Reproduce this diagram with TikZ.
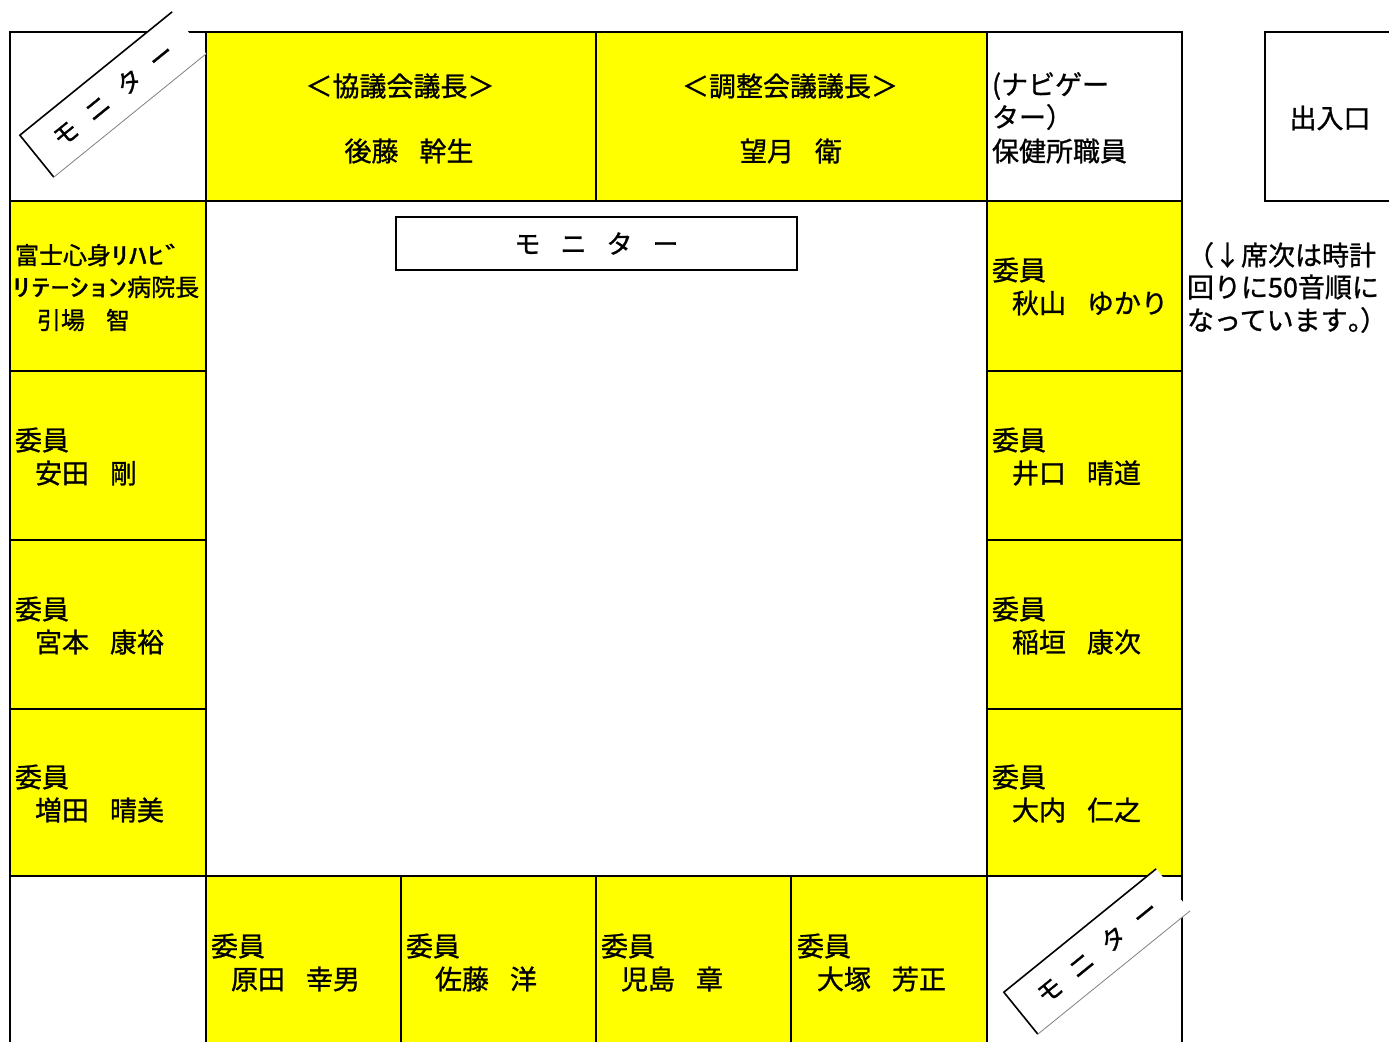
\documentclass[tikz,border=0pt]{standalone}
\usepackage{fontspec}
\usepackage{graphicx}
\setmainfont{Noto Sans CJK JP}[RawFeature={embolden=1.0}]
\newfontfamily\paltfont{Noto Sans CJK JP}[RawFeature={+palt;embolden=1.0}]
\definecolor{seat}{RGB}{255,255,0}
\newcommand\namegap{\hspace{10.5pt}}
\newcommand\seatpair[5]{%
  \node[txt] (#1a) at (#2,#3) {委員};
  \node[txt] (#1b) at (#2+#4,#3+33) {#5};}
\begin{document}
\begin{tikzpicture}[x=0.5pt,y=-0.5pt,
  grid/.style={line width=1.4pt, draw=black},
  txt/.style={inner sep=0pt, outer sep=0pt, font=\fontsize{13.5pt}{16.5pt}\selectfont, anchor=west},
  ctxt/.style={txt, anchor=center},
  smalltxt/.style={txt, font=\fontsize{12pt}{15pt}\selectfont},
  diagmon/.style={fill=white, rotate=39, minimum width=98pt, minimum height=27pt, inner sep=0pt, outer sep=0pt, font=\fontsize{12.5pt}{15pt}\selectfont},
]
\useasboundingbox (0,0) rectangle (1389,1041);
% yellow seats
\fill[seat] (206,32) rectangle (987,201);
\fill[seat] (10,201) rectangle (206,876);
\fill[seat] (987,201) rectangle (1182,876);
\fill[seat] (206,876) rectangle (987,1045);
% grid lines
\draw[grid] (10,1045) -- (10,32) -- (1182,32) -- (1182,1045);
\draw[grid] (10,201) -- (1182,201);
\draw[grid] (10,876) -- (1182,876);
\draw[grid] (206,32) -- (206,1045);
\draw[grid] (987,32) -- (987,1045);
\draw[grid] (596,32) -- (596,201);
\foreach \yy in {371,540,709}{
  \draw[grid] (10,\yy) -- (206,\yy);
  \draw[grid] (987,\yy) -- (1182,\yy);
}
\foreach \xx in {401,596,791}{
  \draw[grid] (\xx,876) -- (\xx,1045);
}
% entrance
\draw[line width=1pt] (1265,32) rectangle (1400,201);
\node[ctxt] (entr) at (1330,118) {出入口};
% centre monitor
\node[draw, line width=1pt, minimum width=200.5pt, minimum height=26.5pt, inner sep=0pt,
      font=\fontsize{13pt}{16pt}\selectfont] (mon) at (596.5,243.5)
      {モ\hspace{10pt}ニ\hspace{10pt}タ\hspace{10pt}ー};
% top row
\node[ctxt] (chairA) at (400,86) {＜協議会議長＞};
\node[ctxt] (chairAn) at (409,151) {後藤\namegap 幹生};
\node[ctxt] (chairB) at (790,86) {＜調整会議議長＞};
\node[ctxt] (chairBn) at (791,151) {望月\namegap 衛};
\node[txt] (nav1) at (992,86) {(ナビゲー};
\node[txt] (nav2) at (992,117) {ター）};
\node[txt] (nav3) at (992,151) {保健所職員};
% top-left seat
\node[smalltxt] (hosp1) at (15,255) {富士心身\scalebox{1.5}[1]{ﾘﾊﾋﾞ}};
\node[smalltxt] (hosp2) at (12,287) {\scalebox{1.6}[1]{ﾘﾃｰｼｮﾝ}病院長};
\node[smalltxt] (hosp3) at (37,320) {引場\hspace{10.5pt}智};
% left column
\seatpair{l2}{15}{440}{20}{安田\namegap 剛}
\seatpair{l3}{15}{609}{20}{宮本\namegap 康裕}
\seatpair{l4}{15}{777}{20}{増田\namegap 晴美}
% right column
\seatpair{r1}{992}{270}{20}{秋山\namegap ゆかり}
\seatpair{r2}{992}{440}{20}{井口\namegap 晴道}
\seatpair{r3}{992}{609}{20}{稲垣\namegap 康次}
\seatpair{r4}{992}{777}{20}{大内\namegap 仁之}
% bottom row
\seatpair{b1}{211}{946}{20}{原田\namegap 幸男}
\seatpair{b2}{406}{946}{29}{佐藤\namegap 洋}
\seatpair{b3}{601}{946}{20}{児島\namegap 章}
\seatpair{b4}{797}{946}{20}{大塚\namegap 芳正}
% side note
\node[txt] (note1) at (1187,255) {（↓席次は時計};
\node[txt] (note2) at (1187,287) {回りに50音順に};
\node[txt] (note3) at (1187,320) {なっています{\paltfont 。）}};
% diagonal monitors
\node[diagmon] (monTL) at (113,94.5) {モ\hspace{8pt}ニ\hspace{8pt}タ\hspace{8pt}ー};
\draw[line width=0.8pt] (monTL.south west) -- (monTL.north west) -- (monTL.north east);
\draw[gray, line width=0.4pt] (monTL.south west) -- (monTL.south east);
\node[diagmon] (monBR) at (1097,951.5) {モ\hspace{8pt}ニ\hspace{8pt}タ\hspace{8pt}ー};
\draw[line width=0.8pt] (monBR.south west) -- (monBR.north west) -- (monBR.north east);
\draw[gray, line width=0.4pt] (monBR.south west) -- (monBR.south east);
\end{tikzpicture}
\end{document}
